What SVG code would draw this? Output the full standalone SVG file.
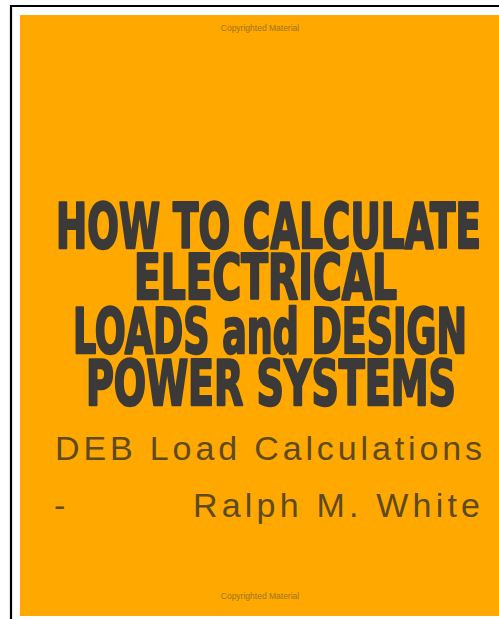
<svg xmlns="http://www.w3.org/2000/svg" width="499" height="619" viewBox="0 0 499 619">
<style>
.title{font-family:"DejaVu Sans Condensed","DejaVu Sans",sans-serif;font-weight:bold;font-size:62px;fill:#3b3a38;stroke:#3b3a38;stroke-width:2.4;stroke-linejoin:round}
.sub{font-family:"Liberation Sans",Arial,sans-serif;font-size:34px;fill:#5e4a1e}
.copy{font-family:"Liberation Sans",Arial,sans-serif;font-size:8.5px;fill:#9a7520}
</style>
<rect x="0" y="0" width="499" height="619" fill="#ffffff"/>
<rect x="20" y="15" width="479" height="601" fill="#ffa800"/>
<line x1="10" y1="6" x2="499" y2="6" stroke="#000" stroke-width="2.2"/>
<line x1="11" y1="5" x2="11" y2="619" stroke="#000" stroke-width="2.2"/>
<g id="cover-text">
<text class="copy" x="260" y="31" text-anchor="middle">Copyrighted Material</text>
<text class="title" x="56" y="248" textLength="425" lengthAdjust="spacingAndGlyphs">HOW TO CALCULATE</text>
<text class="title" x="134" y="299" textLength="263" lengthAdjust="spacingAndGlyphs">ELECTRICAL</text>
<text class="title" x="73" y="353" textLength="394" lengthAdjust="spacingAndGlyphs">LOADS and DESIGN</text>
<text class="title" x="86" y="405" textLength="370" lengthAdjust="spacingAndGlyphs">POWER SYSTEMS</text>
<text class="sub" x="55" y="460" textLength="427" lengthAdjust="spacing">DEB Load Calculations</text>
<text class="sub" x="54" y="517">-</text>
<text class="sub" x="193" y="517" textLength="287" lengthAdjust="spacing">Ralph M. White</text>
<text class="copy" x="260" y="599" text-anchor="middle">Copyrighted Material</text>
</g>
</svg>
